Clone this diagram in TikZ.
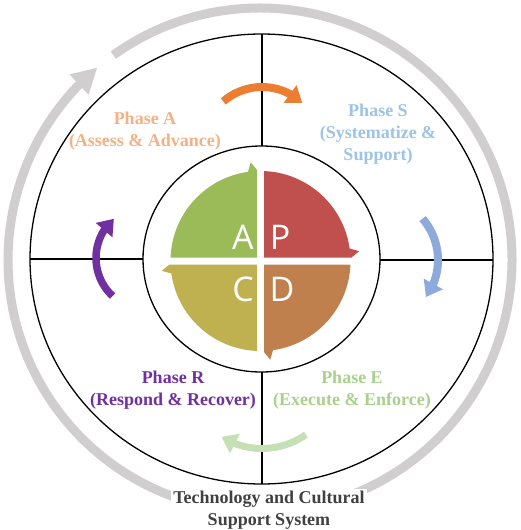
\documentclass[tikz,border=0pt]{standalone}
\usepackage{fontspec}
\setmainfont{Liberation Serif}
\newfontfamily\pdcafont{Open Sans}
\usetikzlibrary{arrows.meta,bending}
\definecolor{ringgray}{RGB}{208,206,206}
\definecolor{pA}{RGB}{155,187,89}
\definecolor{pP}{RGB}{192,80,77}
\definecolor{pD}{RGB}{192,128,77}
\definecolor{pC}{RGB}{191,177,80}
\definecolor{txtA}{RGB}{244,177,131}
\definecolor{txtS}{RGB}{157,195,230}
\definecolor{txtE}{RGB}{169,209,142}
\definecolor{txtR}{RGB}{112,48,160}
\definecolor{arrA}{RGB}{237,125,49}
\definecolor{arrS}{RGB}{142,169,219}
\definecolor{arrE}{RGB}{197,224,180}
\definecolor{arrR}{RGB}{112,48,160}
\definecolor{txtB}{RGB}{64,64,64}
\tikzset{
  frame/.style={line width=1.3pt, black},
  phase/.style={font=\bfseries\fontsize{18}{22}\selectfont, align=center, anchor=base, inner sep=0pt},
  cyc/.style={line width=8pt, -{Triangle[length=15pt,width=21pt]}},
  letter/.style={text=white, font=\pdcafont\fontsize{34}{34}\selectfont, inner sep=0pt},
}
\begin{document}
\begin{tikzpicture}[x=1pt,y=1pt]
\useasboundingbox (0,0) rectangle (520,-530);
\fill[white] (0,0) rectangle (520,-530);
\coordinate (O) at (261.5,-259);
\coordinate (Q) at (260.5,-261);
\coordinate (G) at (260,-260);
% gray outer cycle arrow
\draw[ringgray, line width=9pt, -{Triangle[length=25pt,width=26pt]}]
  ([shift={(125.6:252)}]G) arc[start angle=125.6, end angle=-229.8, radius=252];
% circles
\draw[frame] (O) ellipse [x radius=231.5, y radius=225];
\draw[frame] (O) ellipse [x radius=118.5, y radius=113];
\coordinate (T1) at (262,-34);  \coordinate (T2) at (262,-146);
\coordinate (B1) at (262,-372); \coordinate (B2) at (262,-484);
\coordinate (L1) at (30,-259);  \coordinate (L2) at (143,-259);
\coordinate (R1) at (380,-260); \coordinate (R2) at (493,-260);
\draw[frame] (T1) -- (T2);
\draw[frame] (B1) -- (B2);
\draw[frame] (L1) -- (L2);
\draw[frame] (R1) -- (R2);
% PDCA sectors
\foreach \r/\c in {0/pA, -90/pP, -180/pD, -270/pC} {
  \fill[\c, shift={(Q)}, rotate=\r] (-3.5,3.5) -- (-89.93,3.5)
    arc[start angle=177.77, end angle=98, radius=90] -- (-9.8,98.7) -- (-3.5,91) -- cycle;
}
\node[letter] (lA) at (243,-237) {A};
\node[letter] (lP) at (280,-237) {P};
\node[letter] (lC) at (243,-289) {C};
\node[letter] (lD) at (282,-289) {D};
% small cycle arrows
\coordinate (cA) at (262,-146);
\coordinate (cS) at (375,-260);
\coordinate (cE) at (262,-372);
\coordinate (cR) at (148,-258);
\draw[cyc, arrA] ([shift={(131:59)}]cA) arc[start angle=131, end angle=47, radius=59];
\draw[cyc, arrS] ([shift={(41:63)}]cS) arc[start angle=41, end angle=-36, radius=63];
\draw[cyc, arrE, line width=7pt] ([shift={(-55:76.5)}]cE) arc[start angle=-55, end angle=-122, radius=76.5];
\draw[cyc, arrR, line width=7.5pt] ([shift={(227:52)}]cR) arc[start angle=227, end angle=131, radius=52];
% labels (base anchor = last line's baseline)
\node[phase, text=txtA] (nA) at (145,-146) {Phase A\\(Assess \& Advance)};
\node[phase, text=txtS] (nS) at (378,-160) {Phase S\\(Systematize \&\\Support)};
\node[phase, text=txtR] (nR) at (173,-405) {Phase R\\(Respond \& Recover)};
\node[phase, text=txtE] (nE) at (352,-405) {Phase E\\(Execute \& Enforce)};
\node[phase, text=txtB, fill=white, inner sep=2pt] (nB) at (269,-525) {Technology and Cultural\\Support System};
\end{tikzpicture}
\end{document}
